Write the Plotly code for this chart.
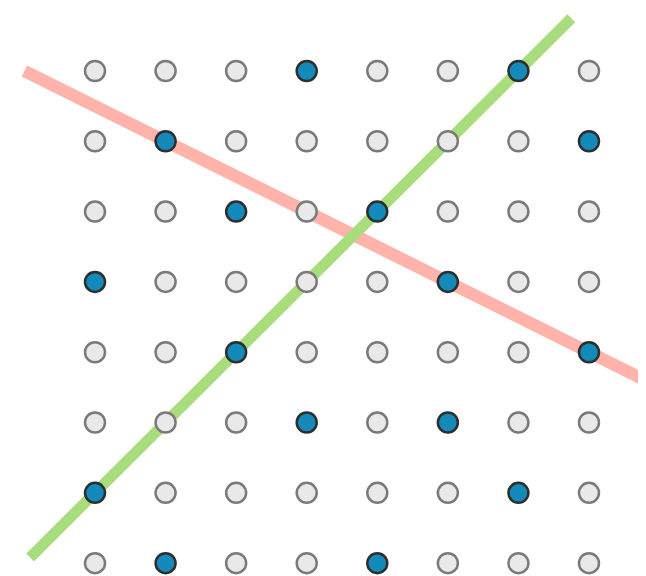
import plotly.graph_objects as go

# Grid of points (8 x 8)
cols = [0, 1, 2, 3, 4, 5, 6, 7]
rows = [0, 1, 2, 3, 4, 5, 6, 7]

# Highlighted (blue) points: column and row indices
blue_cols = [3, 6, 1, 7, 2, 4, 0, 5, 2, 7, 3, 5, 0, 6, 1, 4]
blue_rows = [0, 0, 1, 1, 2, 2, 3, 3, 4, 4, 5, 5, 6, 6, 7, 7]

# Lines
red_x = [-1.0, 8.2]
red_y = [0.0, 4.6]
green_x = [-0.92, 6.75]
green_y = [6.92, -0.75]

blue_set = set(zip(blue_cols, blue_rows))
gray_x, gray_y = [], []
for r in rows:
    for c in cols:
        if (c, r) not in blue_set:
            gray_x.append(c)
            gray_y.append(r)

fig = go.Figure()
fig.add_trace(go.Scatter(x=red_x, y=red_y, mode="lines",
                         line=dict(color="#ffb3aa", width=12.5), hoverinfo="skip"))
fig.add_trace(go.Scatter(x=green_x, y=green_y, mode="lines",
                         line=dict(color="#a9dc7c", width=11), hoverinfo="skip"))
fig.add_trace(go.Scatter(x=gray_x, y=gray_y, mode="markers",
                         marker=dict(size=20, color="#e9e9e9",
                                     line=dict(color="#7a7a7a", width=2.5))))
fig.add_trace(go.Scatter(x=blue_cols, y=blue_rows, mode="markers",
                         marker=dict(size=20, color="#138ab9",
                                     line=dict(color="#2e2e2e", width=2.5))))

fig.update_layout(
    width=638, height=568,
    margin=dict(l=0, r=0, t=0, b=0),
    paper_bgcolor="white", plot_bgcolor="white",
    showlegend=False,
    xaxis=dict(range=[-1.233, 7.808], visible=False, fixedrange=True),
    yaxis=dict(range=[7.183, -0.896], visible=False, fixedrange=True),
)
fig.write_html("out.html")
